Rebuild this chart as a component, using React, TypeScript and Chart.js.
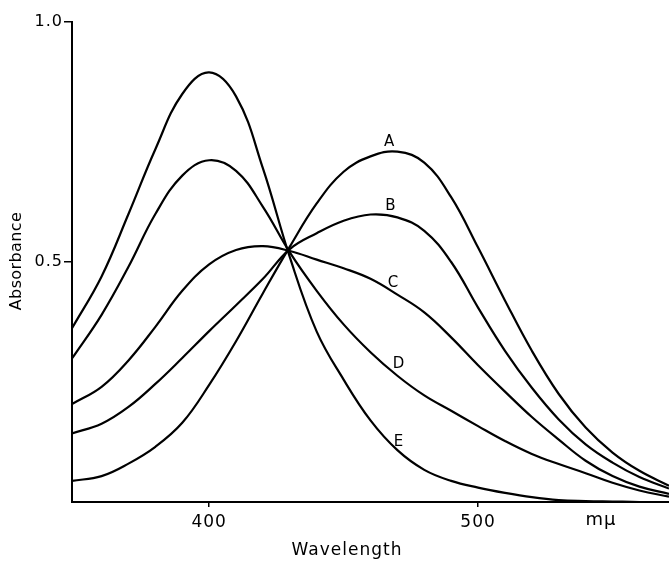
import React, { useEffect, useRef } from "react";
import { Chart, registerables } from "chart.js";

Chart.register(...registerables);

// Wavelength (mμ) sample points
const wavelengths = [349, 360, 370, 380, 390, 400, 410, 420, 430, 440, 450, 460, 470, 480, 490, 500, 510, 520, 530, 540, 550, 560, 571];

// Absorbance values per curve
const curveA = [0.044, 0.054, 0.08, 0.115, 0.165, 0.244, 0.335, 0.435, 0.532, 0.622, 0.688, 0.72, 0.73, 0.707, 0.635, 0.53, 0.42, 0.315, 0.225, 0.155, 0.103, 0.065, 0.034];
const curveB = [0.143, 0.163, 0.198, 0.246, 0.3, 0.356, 0.41, 0.465, 0.527, 0.56, 0.586, 0.599, 0.593, 0.565, 0.5, 0.405, 0.315, 0.238, 0.172, 0.12, 0.082, 0.052, 0.028];
const curveC = [0.204, 0.24, 0.295, 0.365, 0.44, 0.495, 0.525, 0.533, 0.523, 0.505, 0.487, 0.465, 0.432, 0.395, 0.343, 0.285, 0.23, 0.177, 0.13, 0.086, 0.054, 0.032, 0.017];
const curveD = [0.299, 0.39, 0.49, 0.6, 0.68, 0.712, 0.69, 0.615, 0.52, 0.44, 0.37, 0.312, 0.263, 0.222, 0.19, 0.158, 0.127, 0.1, 0.079, 0.06, 0.04, 0.024, 0.011];
const curveE = [0.362, 0.47, 0.6, 0.735, 0.85, 0.895, 0.845, 0.695, 0.51, 0.355, 0.255, 0.17, 0.108, 0.067, 0.044, 0.03, 0.019, 0.01, 0.004, 0.002, 0.001, 0, 0];

const series = [curveA, curveB, curveC, curveD, curveE];

// Curve labels and where they sit (in data units)
const labelNames = ["A", "B", "C", "D", "E"];
const labelWavelength = [467, 467.5, 468.5, 470.5, 470.5];
const labelAbsorbance = [0.75, 0.617, 0.456, 0.288, 0.125];

// Axis ticks
const xTicks = [400, 500];
const yTicks = [0.5, 1.0];

const FONT = '"DejaVu Sans", sans-serif';

const textPlugin = {
  id: "figureText",
  beforeDraw(chart: any) {
    (chart.ctx as any).letterSpacing = "1px";
  },
  afterDraw(chart: any) {
    const ctx = chart.ctx as CanvasRenderingContext2D;
    const xs = chart.scales.x;
    const ys = chart.scales.y;
    ctx.save();
    ctx.fillStyle = "#000";
    ctx.textAlign = "center";
    ctx.textBaseline = "middle";
    (ctx as any).letterSpacing = "0.5px";
    ctx.font = `15px ${FONT}`;
    labelNames.forEach((name, i) => {
      ctx.fillText(name, xs.getPixelForValue(labelWavelength[i]), ys.getPixelForValue(labelAbsorbance[i]));
    });
    (ctx as any).letterSpacing = "1px";
    ctx.font = `17px ${FONT}`;
    ctx.fillText("Wavelength", 347, 551);
    ctx.font = `18px ${FONT}`;
    ctx.fillText("mμ", 601, 520);
    ctx.translate(17, 261);
    ctx.rotate(-Math.PI / 2);
    (ctx as any).letterSpacing = "0.4px";
    ctx.font = `16px ${FONT}`;
    ctx.fillText("Absorbance", 0, 0);
    ctx.restore();
  },
};

export default function App() {
  const ref = useRef<HTMLCanvasElement | null>(null);

  useEffect(() => {
    if (!ref.current) return;
    const chart = new Chart(ref.current, {
      type: "line",
      data: {
        datasets: series.map((vals, i) => ({
          label: labelNames[i],
          data: wavelengths.map((w, j) => ({ x: w, y: vals[j] })),
          borderColor: "#000",
          borderWidth: 2.2,
          pointRadius: 0,
          fill: false,
          tension: 0.4,
        })),
      },
      options: {
        animation: false,
        responsive: true,
        maintainAspectRatio: false,
        layout: { padding: { top: 22, right: 0, left: 0, bottom: 0 } },
        plugins: {
          legend: { display: false },
          tooltip: { enabled: false },
          title: { display: false },
        },
        scales: {
          x: {
            type: "linear",
            min: 349,
            max: 571,
            afterBuildTicks: (s: any) => {
              s.ticks = xTicks.map((v) => ({ value: v }));
            },
            afterFit: (s: any) => {
              s.height = 59;
            },
            ticks: {
              color: "#000",
              font: { family: FONT, size: 17 },
              padding: 5,
              maxRotation: 0,
              callback: (v: any) => String(v),
            },
            grid: {
              drawOnChartArea: false,
              drawTicks: true,
              tickLength: 5,
              color: "#000",
              lineWidth: 1.5,
            },
            border: { display: true, color: "#000", width: 2 },
          },
          y: {
            type: "linear",
            min: 0,
            max: 1.0,
            afterBuildTicks: (s: any) => {
              s.ticks = yTicks.map((v) => ({ value: v }));
            },
            afterFit: (s: any) => {
              s.width = 72;
            },
            ticks: {
              color: "#000",
              font: { family: FONT, size: 16 },
              padding: 1,
              callback: (v: any) => Number(v).toFixed(1),
            },
            grid: {
              drawOnChartArea: false,
              drawTicks: true,
              tickLength: 8,
              color: "#000",
              lineWidth: 1.5,
            },
            border: { display: true, color: "#000", width: 2 },
          },
        },
      },
      plugins: [textPlugin],
    });
    return () => chart.destroy();
  }, []);

  return (
    <div style={{ position: "fixed", left: 0, top: 0, width: 669, height: 561, background: "#fff" }}>
      <canvas ref={ref} />
    </div>
  );
}
